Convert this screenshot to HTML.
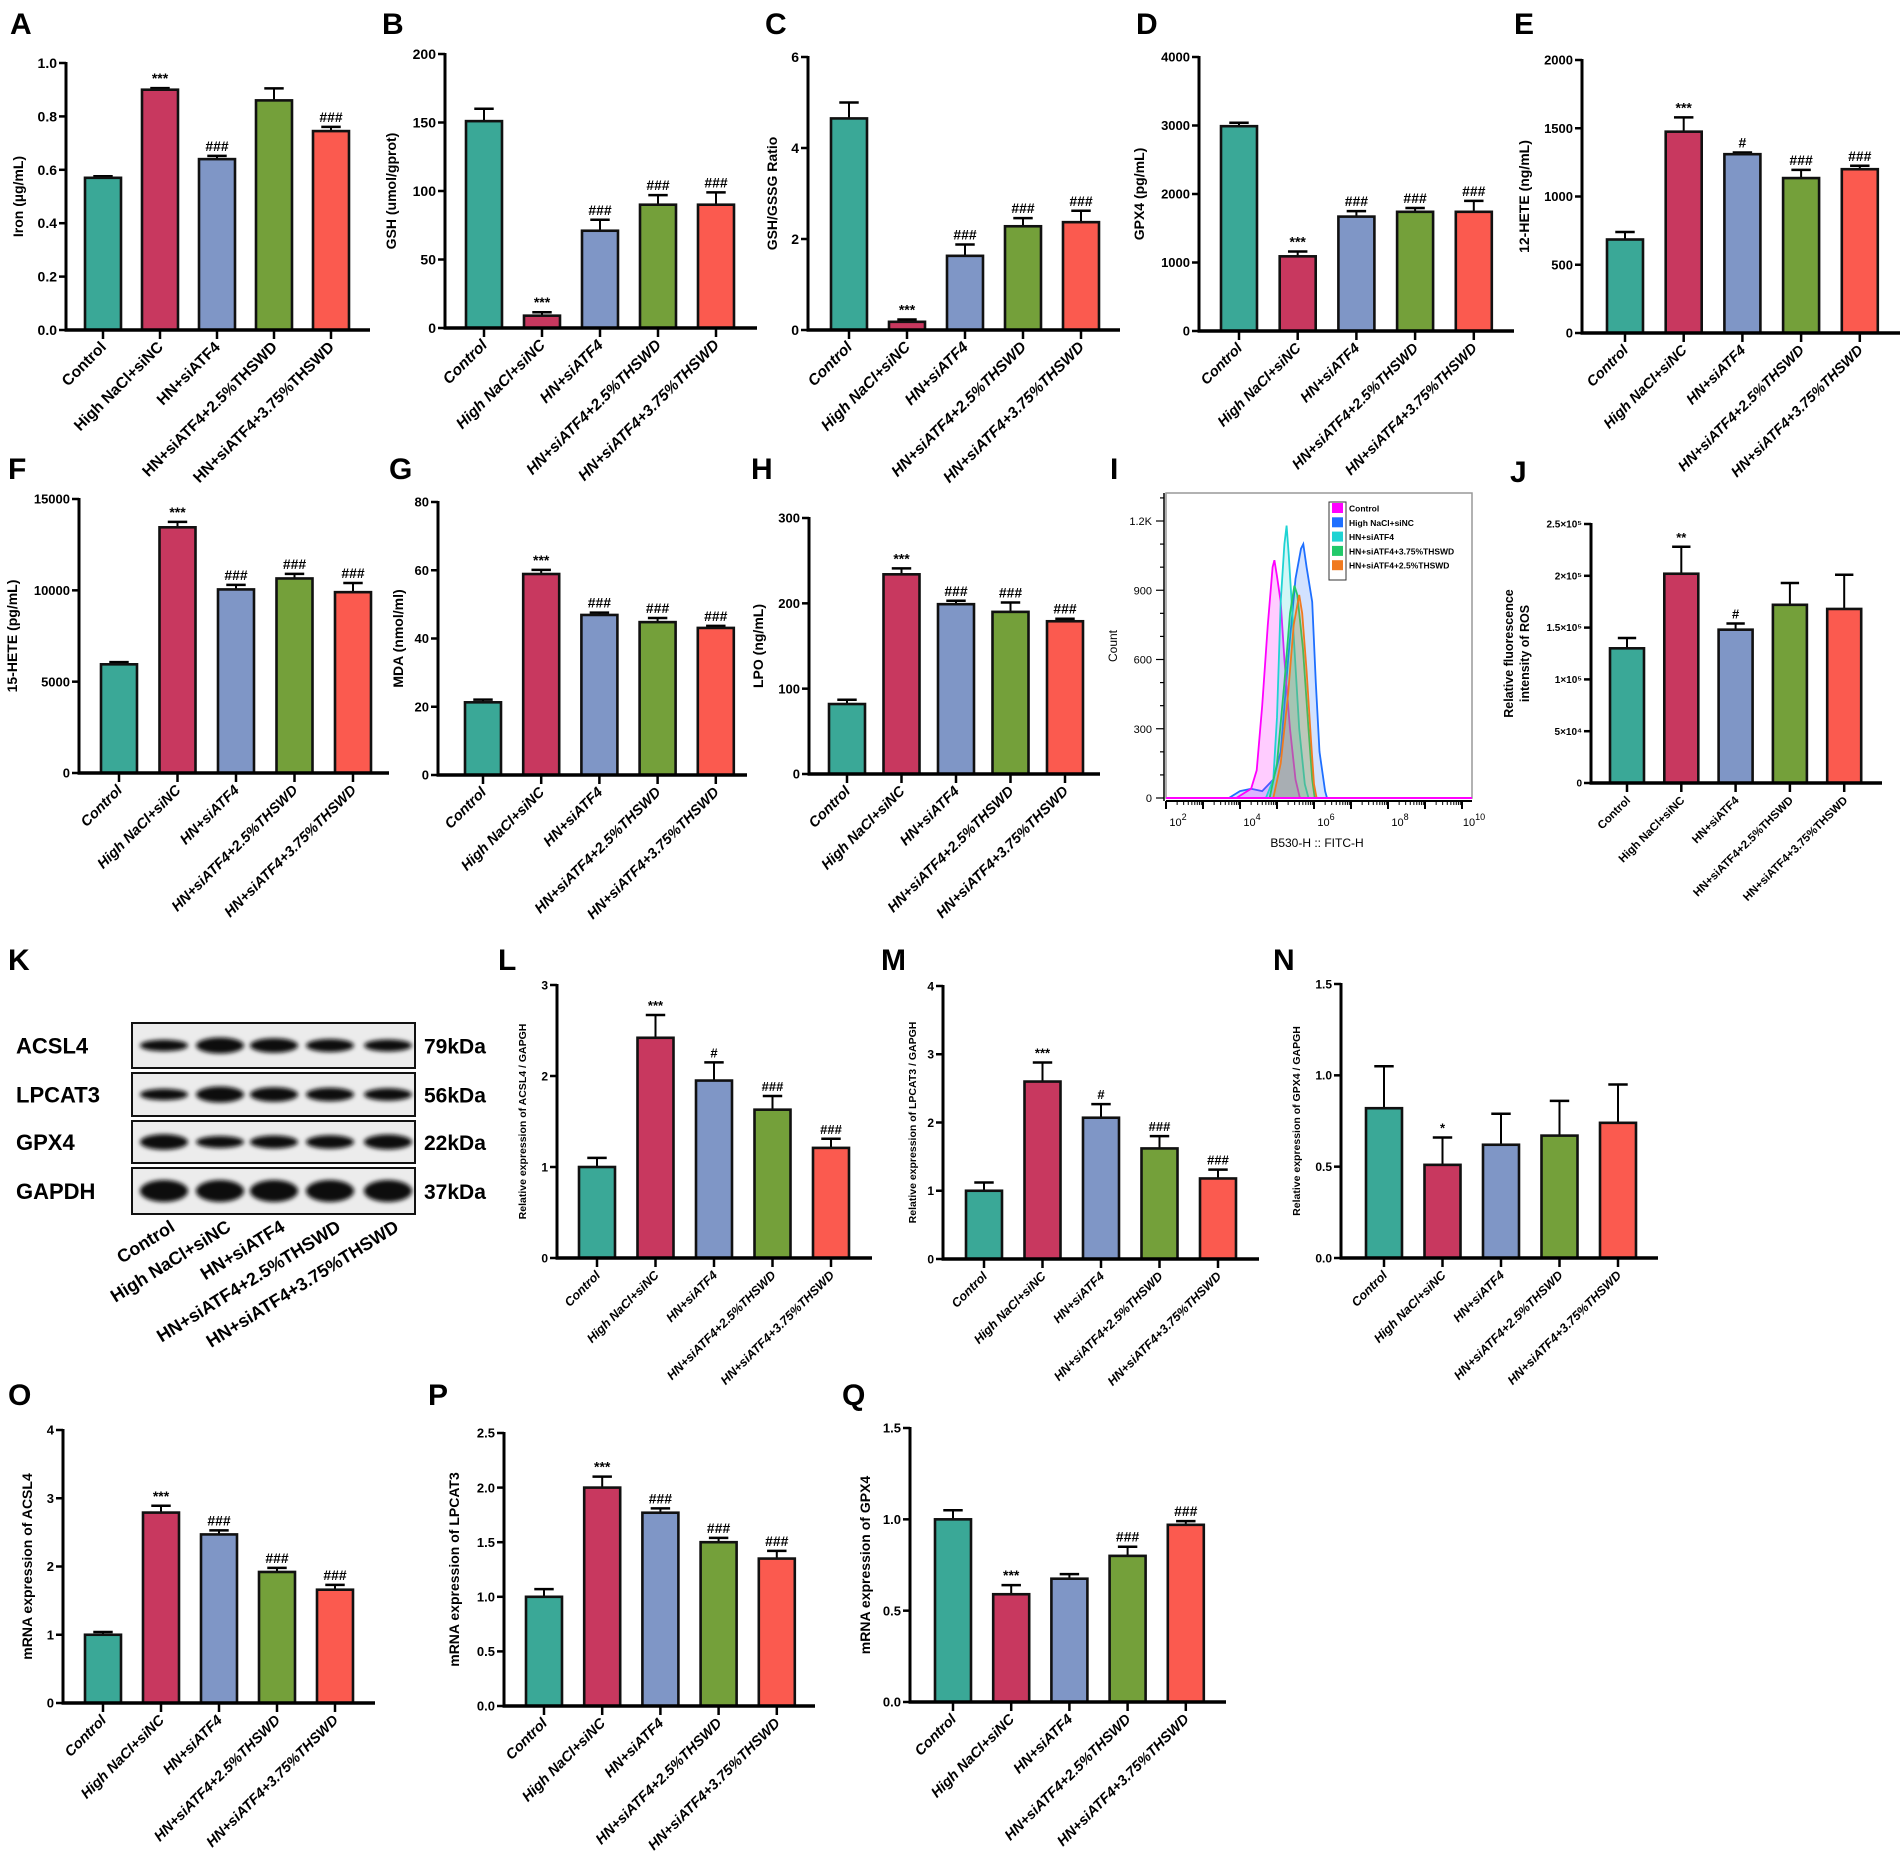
<!DOCTYPE html>
<html><head><meta charset="utf-8"><style>
html,body{margin:0;padding:0;background:#fff}
svg{display:block}
text{font-family:"Liberation Sans",Arial,sans-serif}
</style></head><body>
<svg id="fig" width="1902" height="1861" viewBox="0 0 1902 1861" xmlns="http://www.w3.org/2000/svg">
<g id="blot"></g>
</svg>
<script>
const categories = ["Control","High NaCl+siNC","HN+siATF4","HN+siATF4+2.5%THSWD","HN+siATF4+3.75%THSWD"];
const barColors = ["#3aa897","#c8385f","#7f96c6","#74a03a","#fb5a4f"];

const valsA=[0.57,0.90,0.64,0.86,0.745], errA=[0.006,0.006,0.012,0.045,0.016], annA=["","***","###","","###"];
const ticksA=[0,0.2,0.4,0.6,0.8,1.0], tickLabA=["0.0","0.2","0.4","0.6","0.8","1.0"];
const valsB=[151,9,71,90,90], errB=[9,2.5,8,7,9], annB=["","***","###","###","###"];
const ticksB=[0,50,100,150,200], tickLabB=["0","50","100","150","200"];
const valsC=[4.65,0.18,1.63,2.28,2.37], errC=[0.35,0.05,0.25,0.18,0.25], annC=["","***","###","###","###"];
const ticksC=[0,2,4,6], tickLabC=["0","2","4","6"];
const valsD=[2990,1090,1670,1740,1740], errD=[50,70,80,55,160], annD=["","***","###","###","###"];
const ticksD=[0,1000,2000,3000,4000], tickLabD=["0","1000","2000","3000","4000"];
const valsE=[685,1475,1310,1135,1200], errE=[55,105,12,60,25], annE=["","***","#","###","###"];
const ticksE=[0,500,1000,1500,2000], tickLabE=["0","500","1000","1500","2000"];
const valsF=[5950,13450,10050,10650,9900], errF=[120,300,250,250,500], annF=["","***","###","###","###"];
const ticksF=[0,5000,10000,15000], tickLabF=["0","5000","10000","15000"];
const valsG=[21.3,58.9,46.9,44.8,43.1], errG=[0.8,1.2,0.7,1.2,0.6], annG=["","***","###","###","###"];
const ticksG=[0,20,40,60,80], tickLabG=["0","20","40","60","80"];
const valsH=[82,234,199,190,179], errH=[5,7,4,11,3], annH=["","***","###","###","###"];
const ticksH=[0,100,200,300], tickLabH=["0","100","200","300"];
const valsJ=[130000,202000,148000,172000,168000], errJ=[10000,26000,6000,21000,33000], annJ=["","**","#","",""];
const ticksJ=[0,50000,100000,150000,200000,250000], tickLabJ=["0","5×10⁴","1×10⁵","1.5×10⁵","2×10⁵","2.5×10⁵"];
const valsL=[1.0,2.42,1.95,1.63,1.21], errL=[0.1,0.25,0.2,0.15,0.1], annL=["","***","#","###","###"];
const ticksL=[0,1,2,3], tickLabL=["0","1","2","3"];
const valsM=[1.0,2.6,2.07,1.62,1.18], errM=[0.12,0.28,0.2,0.18,0.13], annM=["","***","#","###","###"];
const ticksM=[0,1,2,3,4], tickLabM=["0","1","2","3","4"];
const valsN=[0.82,0.51,0.62,0.67,0.74], errN=[0.23,0.15,0.17,0.19,0.21], annN=["","*","","",""];
const ticksN=[0,0.5,1.0,1.5], tickLabN=["0.0","0.5","1.0","1.5"];
const valsO=[1.0,2.79,2.47,1.92,1.66], errO=[0.04,0.1,0.06,0.06,0.07], annO=["","***","###","###","###"];
const ticksO=[0,1,2,3,4], tickLabO=["0","1","2","3","4"];
const valsP=[1.0,2.0,1.77,1.5,1.35], errP=[0.07,0.1,0.04,0.04,0.07], annP=["","***","###","###","###"];
const ticksP=[0,0.5,1.0,1.5,2.0,2.5], tickLabP=["0.0","0.5","1.0","1.5","2.0","2.5"];
const valsQ=[1.0,0.59,0.675,0.80,0.97], errQ=[0.05,0.05,0.025,0.05,0.02], annQ=["","***","","###","###"];
const ticksQ=[0,0.5,1.0,1.5], tickLabQ=["0.0","0.5","1.0","1.5"];

// flow cytometry histogram (log10 fluorescence, count)
const histNames=["Control","High NaCl+siNC","HN+siATF4","HN+siATF4+3.75%THSWD","HN+siATF4+2.5%THSWD"];
const histLogCtrl=[3.9,4.1,4.3,4.45,4.6,4.75,4.88,4.93,5.0,5.1,5.2,5.35,5.5,5.62];
const histCntCtrl=[0,20,40,120,400,750,1000,1030,960,850,600,300,80,0];
const histLogHigh=[3.7,4.0,4.3,4.6,4.9,5.1,5.3,5.5,5.65,5.71,5.8,5.95,6.05,6.15,6.3,6.35];
const histCntHigh=[0,30,40,30,80,200,600,950,1080,1100,1000,850,500,200,30,0];
const histLogSi=[4.7,4.9,5.0,5.1,5.2,5.26,5.32,5.45,5.6,5.75,5.85];
const histCntSi=[0,80,350,850,1100,1180,1050,700,300,60,0];
const histLog375=[4.8,5.0,5.2,5.35,5.47,5.55,5.7,5.85,5.95,6.02];
const histCnt375=[0,150,500,800,920,880,650,300,80,0];
const histLog25=[4.9,5.1,5.3,5.45,5.6,5.68,5.8,5.92,6.0,6.07];
const histCnt25=[0,150,450,750,880,800,550,250,60,0];
const histTicksY=[0,300,600,900,1200], histTickLabY=["0","300","600","900","1.2K"];

const NS="http://www.w3.org/2000/svg";
const svg=document.getElementById('fig');
function mk(tag,attrs,parent,txt){const e=document.createElementNS(NS,tag);for(const k in attrs)e.setAttribute(k,attrs[k]);if(txt!==undefined)e.textContent=txt;(parent||svg).appendChild(e);return e;}

function barChart(p){
  const g=mk('g',{});
  
  
  const maxV=p.ticks[p.ticks.length-1];
  const ys=v=>p.yBot-(v/maxV)*(p.yBot-p.yTop);
  const xs=i=>p.c0+i*p.dx;
  const bw=p.bw||36;
  const fsT=p.fsT||14, fsX=p.fsX||15;
  const sty=p.italic?'italic':'normal';
  p.vals.forEach((v,i)=>{
    const top=ys(v+p.errs[i]);
    const e=mk('line',{x1:xs(i),x2:xs(i),y1:ys(v),y2:top,stroke:'#000','stroke-width':2},g);
    
    
    const c=mk('line',{x1:xs(i)-bw*0.27,x2:xs(i)+bw*0.27,y1:top,y2:top,stroke:'#000','stroke-width':2.5},g);
    
    
    const r=mk('rect',{x:xs(i)-bw/2,y:ys(v),width:bw,height:p.yBot-ys(v),fill:barColors[i],stroke:'#111','stroke-width':2.6},g);
    
    
    if(p.ann[i]){
      const a=mk('text',{x:xs(i),y:top-5,'text-anchor':'middle','font-size':p.fsA||14,'font-weight':'bold'},g,p.ann[i]);
      
      
    }
    const t=mk('line',{x1:xs(i),x2:xs(i),y1:p.yBot,y2:p.yBot+9,stroke:'#000','stroke-width':2.5},g);
    
    
    const lx=xs(i)+4, ly=p.yBot+18;
    const l=mk('text',{x:lx,y:ly,'text-anchor':'end','font-size':fsX,'font-weight':'bold','font-style':sty,transform:`rotate(-45 ${lx} ${ly})`},g,categories[i]);
    
    
  });
  const ya=mk('line',{x1:p.x0,x2:p.x0,y1:p.yTop-1,y2:p.yBot+1.5,stroke:'#000','stroke-width':3},g);
  
  
  const xa=mk('line',{x1:p.x0-1.5,x2:p.xEnd,y1:p.yBot,y2:p.yBot,stroke:'#000','stroke-width':3.5},g);
  
  
  p.ticks.forEach((t,k)=>{
    const y=ys(t);
    const tk=mk('line',{x1:p.x0-7,x2:p.x0,y1:y,y2:y,stroke:'#000','stroke-width':2.5},g);
    
    
    const tl=mk('text',{x:p.x0-9,y:y+fsT*0.36,'text-anchor':'end','font-size':fsT,'font-weight':'bold'},g,p.tickLab[k]);
    
    
  });
  const cy=(p.yTop+p.yBot)/2, tx=p.x0+p.tdx;
  if(p.title2){
    const a=mk('text',{x:tx-8,y:cy,'text-anchor':'middle','font-size':p.fsY||14,'font-weight':'bold',transform:`rotate(-90 ${tx-8} ${cy})`},g,p.title);
    
    
    const b=mk('text',{x:tx+8,y:cy,'text-anchor':'middle','font-size':p.fsY||14,'font-weight':'bold',transform:`rotate(-90 ${tx+8} ${cy})`},g,p.title2);
    
    
  } else {
    const a=mk('text',{x:tx,y:cy,'text-anchor':'middle','font-size':p.fsY||14,'font-weight':'bold',transform:`rotate(-90 ${tx} ${cy})`},g,p.title);
    
    
  }
  const pl=mk('text',{x:p.lx,y:p.ly,'font-size':30,'font-weight':'bold'},g,p.id);
  
  
}

const panels=[
 {id:'A',x0:66,yTop:63,yBot:330,xEnd:370,c0:103,dx:57,vals:valsA,errs:errA,ann:annA,ticks:ticksA,tickLab:tickLabA,title:'Iron (µg/mL)',tdx:-43,lx:10,ly:34,fsX:15.5},
 {id:'B',x0:445,yTop:54,yBot:328,xEnd:757,c0:484,dx:58,vals:valsB,errs:errB,ann:annB,ticks:ticksB,tickLab:tickLabB,title:'GSH (umol/gprot)',tdx:-49,lx:382,ly:34,italic:true,fsX:15.5},
 {id:'C',x0:808,yTop:57,yBot:330,xEnd:1120,c0:849,dx:58,vals:valsC,errs:errC,ann:annC,ticks:ticksC,tickLab:tickLabC,title:'GSH/GSSG Ratio',tdx:-31,lx:765,ly:34,italic:true,fsX:15.5},
 {id:'D',x0:1199,yTop:57,yBot:331,xEnd:1514,c0:1239,dx:58.7,vals:valsD,errs:errD,ann:annD,ticks:ticksD,tickLab:tickLabD,title:'GPX4 (pg/mL)',tdx:-55,lx:1136,ly:34,italic:true,fsT:13,fsX:14.5},
 {id:'E',x0:1582,yTop:60,yBot:333,xEnd:1900,c0:1625,dx:58.7,vals:valsE,errs:errE,ann:annE,ticks:ticksE,tickLab:tickLabE,title:'12-HETE (ng/mL)',tdx:-53,lx:1514,ly:34,italic:true,fsT:13,fsX:14.5},
 {id:'F',x0:79,yTop:499,yBot:773,xEnd:389,c0:119,dx:58.5,vals:valsF,errs:errF,ann:annF,ticks:ticksF,tickLab:tickLabF,title:'15-HETE (pg/mL)',tdx:-62,lx:8,ly:479,italic:true,fsT:13,fsX:14.5},
 {id:'G',x0:438,yTop:502,yBot:775,xEnd:747,c0:483,dx:58.2,vals:valsG,errs:errG,ann:annG,ticks:ticksG,tickLab:tickLabG,title:'MDA (nmol/ml)',tdx:-35,lx:389,ly:479,italic:true,fsT:13,fsX:14.5},
 {id:'H',x0:809,yTop:518,yBot:774,xEnd:1100,c0:847,dx:54.5,vals:valsH,errs:errH,ann:annH,ticks:ticksH,tickLab:tickLabH,title:'LPO (ng/mL)',tdx:-46,lx:751,ly:479,italic:true,fsT:13,fsX:14.5},
 {id:'J',x0:1591,yTop:524,yBot:783,xEnd:1882,c0:1627,dx:54.3,bw:34,vals:valsJ,errs:errJ,ann:annJ,ticks:ticksJ,tickLab:tickLabJ,title:'Relative fluorescence',title2:'intensity of ROS',tdx:-70,lx:1510,ly:482,fsT:10,fsX:11.5,fsY:12.5,fsA:13},
 {id:'L',x0:557,yTop:985,yBot:1258,xEnd:872,c0:597,dx:58.5,vals:valsL,errs:errL,ann:annL,ticks:ticksL,tickLab:tickLabL,title:'Relative expression of ACSL4 / GAPGH',tdx:-31,lx:498,ly:970,italic:true,fsT:12,fsX:12.5,fsY:10.5,fsA:13},
 {id:'M',x0:943,yTop:986,yBot:1259,xEnd:1259,c0:984,dx:58.5,vals:valsM,errs:errM,ann:annM,ticks:ticksM,tickLab:tickLabM,title:'Relative expression of LPCAT3 / GAPGH',tdx:-27,lx:881,ly:970,italic:true,fsT:12,fsX:12.5,fsY:10.5,fsA:13},
 {id:'N',x0:1341,yTop:984,yBot:1258,xEnd:1658,c0:1384,dx:58.5,vals:valsN,errs:errN,ann:annN,ticks:ticksN,tickLab:tickLabN,title:'Relative expression of GPX4 / GAPGH',tdx:-41,lx:1273,ly:970,italic:true,fsT:12,fsX:12.5,fsY:10.5,fsA:13},
 {id:'O',x0:63,yTop:1430,yBot:1703,xEnd:375,c0:103,dx:58,vals:valsO,errs:errO,ann:annO,ticks:ticksO,tickLab:tickLabO,title:'mRNA expression of ACSL4',tdx:-31,lx:8,ly:1405,italic:true,fsT:13,fsX:14.5},
 {id:'P',x0:504,yTop:1433,yBot:1706,xEnd:815,c0:544,dx:58.2,vals:valsP,errs:errP,ann:annP,ticks:ticksP,tickLab:tickLabP,title:'mRNA expression of LPCAT3',tdx:-45,lx:428,ly:1405,italic:true,fsT:13,fsX:14.5},
 {id:'Q',x0:910,yTop:1428,yBot:1702,xEnd:1226,c0:953,dx:58.2,vals:valsQ,errs:errQ,ann:annQ,ticks:ticksQ,tickLab:tickLabQ,title:'mRNA expression of GPX4',tdx:-40,lx:842,ly:1405,italic:true,fsT:13,fsX:14.5}
];
panels.forEach(barChart);

// Panel I histogram
(function(){
  const g=mk('g',{});
  
  
  const bx0=1166,bx1=1472,by0=493,by1=798;
  const xs=l=>bx0+(l-2)*37;
  const ys=c=>by1-c*(by1-521)/1200;
  const fr=mk('rect',{x:bx0,y:by0,width:bx1-bx0,height:by1-by0,fill:'none',stroke:'#999','stroke-width':1.5},g);
  
  
  const series=[[histLogCtrl,histCntCtrl,'#ff00ff'],[histLogHigh,histCntHigh,'#1e6fff'],[histLogSi,histCntSi,'#1fd3d3'],[histLog375,histCnt375,'#22c96a'],[histLog25,histCnt25,'#f07a20']];
  const order=[1,0,2,3,4];
  order.forEach(si=>{
    const [L,C,col]=series[si];
    let d='M'+xs(L[0])+','+ys(0);
    L.forEach((l,i)=>{d+=' L'+xs(l).toFixed(1)+','+ys(C[i]).toFixed(1);});
    d+=' L'+xs(L[L.length-1])+','+ys(0)+' Z';
    const p=mk('path',{d:d,fill:col,'fill-opacity':0.2,stroke:col,'stroke-width':1.8},g);
    
    
  });
  const base=mk('line',{x1:bx0,x2:bx1,y1:by1,y2:by1,stroke:'#ff00ff','stroke-width':2},g);
  
  
  const ya=mk('line',{x1:bx0-2,x2:bx0-2,y1:by0,y2:by1+3,stroke:'#000','stroke-width':1.5},g);
  
  
  for(let c=0;c<=1300;c+=100){
    const major=histTicksY.indexOf(c)>=0;
    const t=mk('line',{x1:bx0-2-(major?8:4),x2:bx0-2,y1:ys(c),y2:ys(c),stroke:'#000','stroke-width':1.2},g);
    
    
  }
  histTicksY.forEach((c,k)=>{
    const t=mk('text',{x:bx0-14,y:ys(c)+4,'text-anchor':'end','font-size':11},g,histTickLabY[k]);
    
    
  });
  const xa=mk('line',{x1:bx0,x2:bx1,y1:by1+3,y2:by1+3,stroke:'#000','stroke-width':2},g);
  
  
  for(let dcd=2;dcd<=10;dcd++){
    const t=mk('line',{x1:xs(dcd),x2:xs(dcd),y1:by1+3,y2:by1+11,stroke:'#000','stroke-width':2},g);
    
    
    if(dcd<10){for(let m=2;m<=9;m++){const lx=xs(dcd+Math.log10(m));const mt=mk('line',{x1:lx,x2:lx,y1:by1+3,y2:by1+7,stroke:'#000','stroke-width':1},g);}}
  }
  [2,4,6,8,10].forEach(e=>{
    const t=mk('text',{x:xs(e)+12,y:by1+28,'text-anchor':'middle','font-size':11},g);
    
    
    mk('tspan',{},t,'10');
    mk('tspan',{dy:-6,'font-size':9},t,String(e));
  });
  const xt=mk('text',{x:1317,y:847,'text-anchor':'middle','font-size':12},g,'B530-H :: FITC-H');
  
  
  const yt=mk('text',{x:1117,y:646,'text-anchor':'middle','font-size':12,transform:'rotate(-90 1117 646)'},g,'Count');
  
  
  const lg=mk('rect',{x:1329,y:502,width:17,height:78,fill:'none',stroke:'#333','stroke-width':1},g);
  
  
  const legCols=['#ff00ff','#1e6fff','#1fd3d3','#22c96a','#f07a20'];
  histNames.forEach((n,i)=>{
    const y=508+i*14.3;
    const s=mk('rect',{x:1332,y:y-5,width:11,height:10,fill:legCols[i]},g);
    
    
    const t=mk('text',{x:1349,y:y+3.5,'font-size':8.5,'font-weight':'bold'},g,n);
    
    
  });
  const pl=mk('text',{x:1110,y:479,'font-size':30,'font-weight':'bold'},g,'I');
  
  
})();

// Panel K western blot
const blotRows=["ACSL4","LPCAT3","GPX4","GAPDH"];
const blotKda=["79kDa","56kDa","22kDa","37kDa"];
const blotIntensity=[[0.55,1.0,0.85,0.7,0.6],[0.55,1.0,0.85,0.75,0.65],[0.95,0.6,0.7,0.75,0.9],[1,1,1,1,1]];
(function(){
  const g=document.getElementById('blot');
  const rowsY=[[1023,1068],[1073,1116],[1121,1163],[1168,1214]];
  const lanes=[164,220,274,330,388];
  const defs=mk('defs',{});
  const f=mk('filter',{id:'blur',x:'-20%',y:'-50%',width:'140%',height:'200%'},defs);
  mk('feGaussianBlur',{stdDeviation:'2.2'},f);
  rowsY.forEach((r,ri)=>{
    const b=mk('rect',{x:132,y:r[0],width:283,height:r[1]-r[0],fill:'#ececec',stroke:'#111','stroke-width':2},g);
    
    
    const cy=(r[0]+r[1])/2;
    lanes.forEach((lx,li)=>{
      const k=blotIntensity[ri][li];
      const e=mk('ellipse',{cx:lx,cy:cy,rx:24,ry:3+k*(ri===3?8:5),fill:'#0a0a0a',filter:'url(#blur)'},g);
      
      
    });
    const t=mk('text',{x:16,y:cy+8,'font-size':22,'font-weight':'bold'},g,blotRows[ri]);
    
    
    const kd=mk('text',{x:424,y:cy+8,'font-size':21,'font-weight':'bold'},g,blotKda[ri]);
    
    
  });
  lanes.forEach((lx,i)=>{
    const x=lx+12,y=1230;
    const t=mk('text',{x:x,y:y,'text-anchor':'end','font-size':18,'font-weight':'bold',transform:`rotate(-32 ${x} ${y})`},g,categories[i]);
    
    
  });
  const pl=mk('text',{x:8,y:970,'font-size':30,'font-weight':'bold'},g,'K');
  
  
})();
</script>
</body></html>
